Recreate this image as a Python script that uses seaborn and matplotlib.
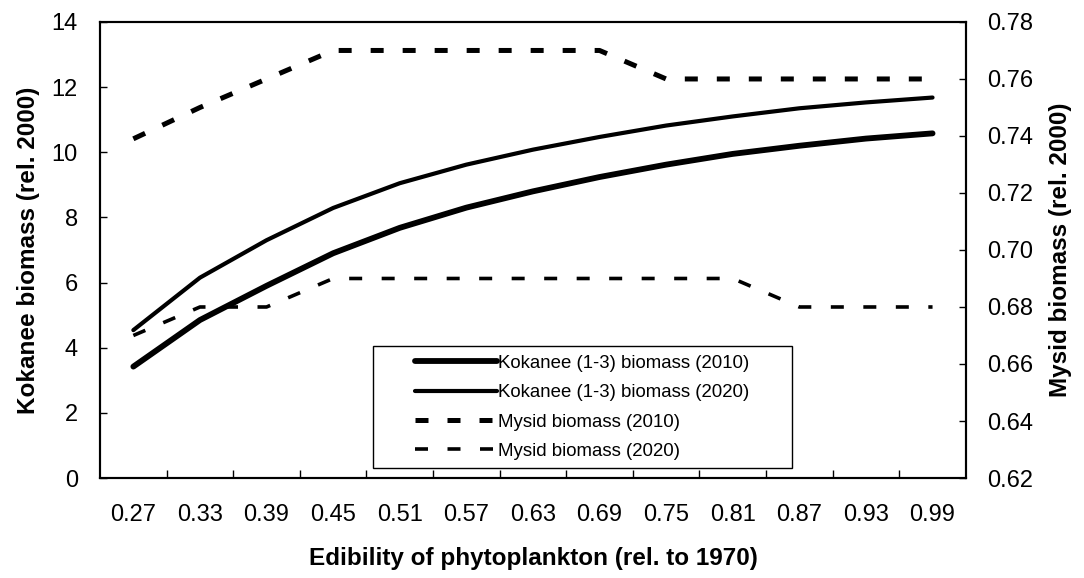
import pandas as pd
import matplotlib.pyplot as plt
from matplotlib.patches import Rectangle
import seaborn as sns

edibility = ["0.27", "0.33", "0.39", "0.45", "0.51", "0.57", "0.63",
             "0.69", "0.75", "0.81", "0.87", "0.93", "0.99"]
kokanee_2010 = [3.42, 4.85, 5.9, 6.9, 7.68, 8.3, 8.8, 9.24, 9.62, 9.95, 10.2, 10.42, 10.58]
kokanee_2020 = [4.54, 6.15, 7.3, 8.29, 9.05, 9.62, 10.08, 10.47, 10.82, 11.1, 11.35, 11.53, 11.68]
mysid_2010 = [0.739, 0.75, 0.76, 0.77, 0.77, 0.77, 0.77, 0.77, 0.76, 0.76, 0.76, 0.76, 0.76]
mysid_2020 = [0.67, 0.68, 0.68, 0.69, 0.69, 0.69, 0.69, 0.69, 0.69, 0.69, 0.68, 0.68, 0.68]

df = pd.DataFrame({
    "edibility": edibility,
    "kok2010": kokanee_2010,
    "kok2020": kokanee_2020,
    "mys2010": mysid_2010,
    "mys2020": mysid_2020,
})
df["pos"] = range(len(df))

sns.set_style("white")
plt.rcParams["font.family"] = ["Liberation Sans", "DejaVu Sans"]
plt.rcParams.update({"text.color": "black", "axes.labelcolor": "black",
                     "xtick.color": "black", "ytick.color": "black"})

fig = plt.figure(figsize=(10.84, 5.78), dpi=100)
ax = fig.add_axes([0.0923, 0.173, 0.7987, 0.789])
ax2 = ax.twinx()

sns.lineplot(data=df, x="pos", y="kok2010", ax=ax, color="black", lw=4.2,
             label="Kokanee (1-3) biomass (2010)", legend=False)
sns.lineplot(data=df, x="pos", y="kok2020", ax=ax, color="black", lw=3.0,
             label="Kokanee (1-3) biomass (2020)", legend=False)
sns.lineplot(data=df, x="pos", y="mys2010", ax=ax2, color="black", lw=3.6,
             label="Mysid biomass (2010)", legend=False)
sns.lineplot(data=df, x="pos", y="mys2020", ax=ax2, color="black", lw=2.6,
             label="Mysid biomass (2020)", legend=False)
ax2.lines[0].set_dashes((2.6, 3.8))
ax2.lines[1].set_dashes((3.6, 5.4))

ax.set_xlim(-0.5, len(edibility) - 0.5)
ax.set_ylim(0, 14)
ax2.set_ylim(0.62, 0.78)
ax.set_yticks(range(0, 15, 2))
ax2.set_yticks([0.62 + 0.02 * i for i in range(9)])
ax2.set_yticklabels([f"{0.62 + 0.02 * i:.2f}" for i in range(9)])

ax.set_xticks(df["pos"])
ax.set_xticklabels(edibility)
ax.set_xticks([p + 0.5 for p in range(len(edibility) - 1)], minor=True)
ax.tick_params(axis="x", which="major", length=0, pad=19, labelsize=17)
ax.tick_params(axis="x", which="minor", length=6, direction="in", bottom=True, width=1)
ax.tick_params(axis="y", length=5, direction="in", left=True, labelsize=17, pad=16, width=1)
ax2.tick_params(axis="y", length=5, direction="in", right=True, labelsize=17, pad=15, width=1)

for a in (ax, ax2):
    for s in a.spines.values():
        s.set_color("black")
        s.set_linewidth(1.5)

ax.set_xlabel("Edibility of phytoplankton (rel. to 1970)", fontsize=17.5,
              fontweight="bold", labelpad=15)
ax.set_ylabel("Kokanee biomass (rel. 2000)", fontsize=17.5, fontweight="bold", labelpad=8)
ax2.set_ylabel("Mysid biomass (rel. 2000)", fontsize=17.5, fontweight="bold", labelpad=12)

# legend box drawn separately so the entries can sit inset like the original
ax2.add_patch(Rectangle((0.315, 0.022), 0.484, 0.267, transform=ax2.transAxes,
                        facecolor="white", edgecolor="black", lw=1.0, zorder=5))
handles = ax.lines[:2] + ax2.lines[:2]
labels = [h.get_label() for h in handles]
leg = ax2.legend(handles, labels, loc="upper left", bbox_to_anchor=(0.364, 0.27),
                 fontsize=13.4, frameon=False, handlelength=4.4, handletextpad=0.05,
                 labelspacing=0.66, borderaxespad=0, borderpad=0)
leg.set_zorder(6)

fig.savefig("out.png", dpi=100)
